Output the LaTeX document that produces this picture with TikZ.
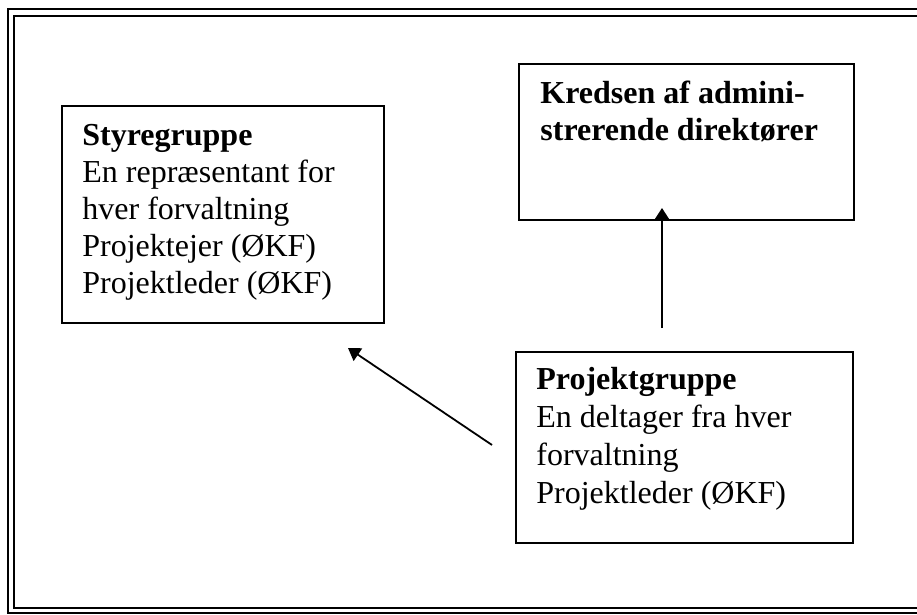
\documentclass[tikz,border=0pt]{standalone}
\usepackage{fontspec}
\setmainfont{Liberation Serif}
\usetikzlibrary{arrows.meta}
\begin{document}
\begin{tikzpicture}[x=0.5pt,y=-0.5pt,
    box/.style={draw, line width=0.9pt, anchor=north west, inner sep=0pt},
    txt/.style={anchor=base west, align=left, inner sep=0pt, font=\fontsize{16}{18.5}\selectfont},
    arr/.style={-{Triangle[length=6pt,width=7.5pt]}, line width=0.9pt}]
        % Fix the size of the page
        \useasboundingbox (0,0) rectangle (917,615);

        % Draw the double frame
        \draw[line width=1pt] (8,9) rectangle (940,613);
        \draw[line width=1.2pt] (14,16) rectangle (932,608);

        % Draw the boxes
        \node[box, minimum width=161pt, minimum height=108.5pt] (styre) at (61,105) {};
        \node[box, minimum width=167.5pt, minimum height=78pt] (kreds) at (518,63) {};
        \node[box, minimum width=168.5pt, minimum height=95.5pt] (projekt) at (515,351) {};

        % Write the texts (placed at the baseline of the last line)
        \node[txt] (styretxt) at (82,293) {\textbf{Styregruppe}\\En repræsentant for\\hver forvaltning\\Projektejer (ØKF)\\Projektleder (ØKF)};
        \node[txt, font=\fontsize{16}{19}\selectfont] (kredstxt) at (540,141) {\textbf{Kredsen af admini-}\\\textbf{strerende direktører}};
        \node[txt, font=\fontsize{16}{19}\selectfont] (projekttxt) at (536,503) {\textbf{Projektgruppe}\\En deltager fra hver\\forvaltning\\Projektleder (ØKF)};

        % Define the free ends of the arrows
        \coordinate (vstart) at (662,328);
        \coordinate (vend) at (662,208);
        \coordinate (dstart) at (492,445);
        \coordinate (dend) at (348,348);

        % Draw the arrows
        \draw[arr] (vstart) -- (vend);
        \draw[arr] (dstart) -- (dend);
    \end{tikzpicture}
\end{document}
